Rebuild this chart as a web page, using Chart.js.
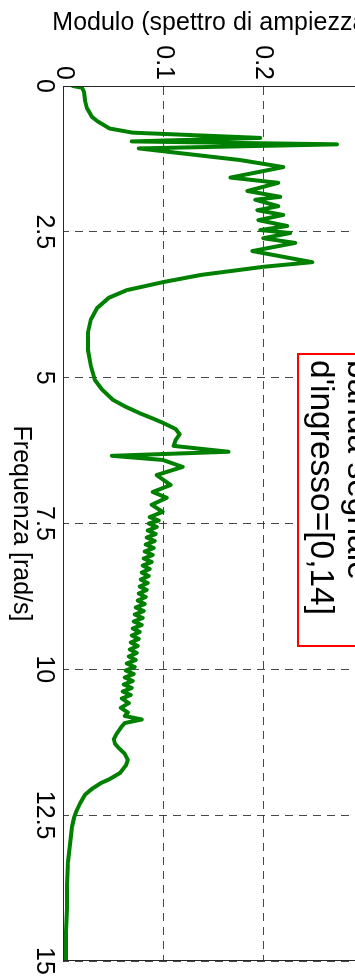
<!DOCTYPE html>
<html>
<head>
<meta charset="utf-8">
<title>Modulo (spettro di ampiezza)</title>
<script src="https://cdn.jsdelivr.net/npm/chart.js@4.4.1/dist/chart.umd.min.js"></script>
<style>
  html, body { margin: 0; padding: 0; background: #fff; }
  /* il grafico è disegnato orizzontale e poi ruotato di 90° */
  #cornice { position: relative; width: 355px; height: 980px; overflow: hidden; background: #fff; }
  #ruotato { position: absolute; left: 0; top: 0; width: 980px; height: 375px;
             transform-origin: 0 0; transform: translateX(375px) rotate(90deg); }
</style>
</head>
<body>
<div id="cornice">
  <div id="ruotato">
    <canvas id="spettro" width="980" height="375"></canvas>
  </div>
</div>
<script>
// Frequenze [rad/s]
const frequenze = [
  0.00, 0.03, 0.10, 0.24, 0.38, 0.53, 0.61, 0.73, 0.80, 0.89,
  0.95, 1.00, 1.07, 1.27, 1.39, 1.57, 1.66, 1.80, 1.90, 1.95,
  2.06, 2.13, 2.21, 2.30, 2.40, 2.47, 2.52, 2.61, 2.69, 2.83,
  3.02, 3.10, 3.24, 3.36, 3.50, 3.63, 3.81, 4.00, 4.23, 4.53,
  4.80, 5.04, 5.20, 5.38, 5.50, 5.61, 5.70, 5.78, 5.88, 5.97,
  6.07, 6.17, 6.27, 6.34, 6.41, 6.53, 6.67, 6.84, 6.96, 7.06,
  7.18, 7.30, 7.39, 7.45, 7.50, 7.56, 7.62, 7.68, 7.74, 7.80,
  7.86, 7.92, 7.98, 8.04, 8.10, 8.16, 8.22, 8.28, 8.34, 8.40,
  8.46, 8.52, 8.58, 8.64, 8.70, 8.76, 8.82, 8.88, 8.94, 9.00,
  9.06, 9.12, 9.18, 9.24, 9.30, 9.36, 9.42, 9.48, 9.54, 9.60,
  9.66, 9.72, 9.78, 9.84, 9.90, 9.96, 10.02, 10.08, 10.14, 10.20,
  10.26, 10.32, 10.38, 10.44, 10.50, 10.58, 10.66, 10.74, 10.80, 10.86,
  10.92, 11.00, 11.10, 11.20, 11.27, 11.35, 11.45, 11.55, 11.65, 11.78,
  11.88, 11.95, 12.05, 12.15, 12.30, 12.41, 12.55, 12.70, 13.00, 13.30,
  13.70, 14.10, 14.50, 15.00
];

// Modulo dello spettro di ampiezza
const moduli = [
  0.009, 0.018, 0.020, 0.021, 0.023, 0.028, 0.034, 0.046, 0.069, 0.197,
  0.068, 0.274, 0.075, 0.177, 0.220, 0.167, 0.215, 0.184, 0.217, 0.192,
  0.215, 0.194, 0.220, 0.195, 0.224, 0.197, 0.227, 0.200, 0.232, 0.189,
  0.249, 0.200, 0.137, 0.100, 0.063, 0.045, 0.033, 0.027, 0.024, 0.024,
  0.027, 0.031, 0.038, 0.049, 0.062, 0.076, 0.089, 0.100, 0.112, 0.116,
  0.112, 0.110, 0.165, 0.048, 0.099, 0.119, 0.093, 0.107, 0.089, 0.103,
  0.088, 0.099, 0.086, 0.095, 0.085, 0.093, 0.084, 0.092, 0.083, 0.091,
  0.082, 0.090, 0.081, 0.089, 0.080, 0.088, 0.079, 0.086, 0.078, 0.085,
  0.077, 0.084, 0.076, 0.083, 0.075, 0.082, 0.074, 0.081, 0.072, 0.080,
  0.071, 0.079, 0.070, 0.078, 0.069, 0.076, 0.068, 0.075, 0.067, 0.074,
  0.066, 0.073, 0.065, 0.072, 0.063, 0.071, 0.062, 0.070, 0.061, 0.069,
  0.060, 0.068, 0.059, 0.067, 0.058, 0.065, 0.057, 0.064, 0.061, 0.078,
  0.061, 0.057, 0.053, 0.050, 0.051, 0.055, 0.061, 0.064, 0.062, 0.056,
  0.046, 0.037, 0.028, 0.021, 0.016, 0.013, 0.010, 0.008, 0.006, 0.004,
  0.003, 0.003, 0.002, 0.002
];

const tickFrequenze = [0, 2.5, 5, 7.5, 10, 12.5, 15];
const tickModuli = [0, 0.1, 0.2];
const etichetteModuli = ['0', '0.1', '0.2'];

const titoloX = 'Frequenza [rad/s]';
const titoloY = 'Modulo (spettro di ampiezza)';
const testoCasella = ['banda segnale', "d'ingresso=[0,14]"];

const FONT = '"Liberation Sans", Arial, Helvetica, sans-serif';
const griglia = 'rgba(40,40,40,0.85)';

// Bordo completo degli assi e casella di testo rossa
const riquadro = {
  id: 'riquadro',
  afterDraw(chart) {
    const { ctx, chartArea: a, scales: { x, y } } = chart;
    ctx.save();
    ctx.strokeStyle = '#262626';
    ctx.lineWidth = 1;
    ctx.strokeRect(a.left + 0.5, a.top + 0.5, a.right - a.left - 1, a.bottom - a.top);

    const x0 = Math.round(x.getPixelForValue(4.6));
    const x1 = Math.round(x.getPixelForValue(9.6));
    const yb = Math.round(y.getPixelForValue(0.235));
    ctx.fillStyle = '#fff';
    ctx.fillRect(x0, -10, x1 - x0, yb + 10);
    ctx.strokeStyle = '#ff0000';
    ctx.lineWidth = 2;
    ctx.strokeRect(x0, -10, x1 - x0, yb + 10);

    ctx.fillStyle = '#000';
    ctx.font = '33.5px ' + FONT;
    ctx.textAlign = 'left';
    ctx.textBaseline = 'alphabetic';
    ctx.fillText(testoCasella[0], x0 + 6, y.getPixelForValue(0.285));
    ctx.fillText(testoCasella[1], x0 + 6, y.getPixelForValue(0.248));
    ctx.restore();
  }
};

const ctx = document.getElementById('spettro').getContext('2d');
new Chart(ctx, {
  type: 'line',
  data: {
    datasets: [{
      data: frequenze.map((f, i) => ({ x: f, y: moduli[i] })),
      borderColor: 'rgb(0,128,0)',
      borderWidth: 4,
      borderJoinStyle: 'round',
      borderCapStyle: 'round',
      pointRadius: 0,
      tension: 0,
      fill: false
    }]
  },
  options: {
    responsive: false,
    animation: false,
    devicePixelRatio: 1,
    layout: { padding: { left: 0, right: 19, top: 12, bottom: 0 } },
    plugins: { legend: { display: false }, tooltip: { enabled: false } },
    scales: {
      x: {
        type: 'linear',
        min: 0,
        max: 15,
        afterBuildTicks: s => { s.ticks = tickFrequenze.map(v => ({ value: v })); },
        afterFit: s => { s.height = 64; },
        grid: { color: griglia, lineWidth: 1, drawTicks: false },
        border: { display: true, color: '#262626', dash: [8, 6] },
        ticks: {
          color: '#000', padding: 5, autoSkip: false, maxRotation: 0,
          font: { family: FONT, size: 25 },
          callback: v => String(v)
        },
        title: {
          display: true, text: titoloX, color: '#000',
          font: { family: FONT, size: 25 },
          padding: { top: 0, bottom: 6 }
        }
      },
      y: {
        type: 'linear',
        min: 0,
        max: 0.3,
        afterBuildTicks: s => { s.ticks = tickModuli.map(v => ({ value: v })); },
        // niente margine extra sopra: 0.3 resta fuori dalla finestra
        afterFit: s => { s.width = 86; s.paddingTop = 0; s.paddingBottom = 0; },
        grid: { color: griglia, lineWidth: 1, drawTicks: false },
        border: { display: true, color: '#262626', dash: [8, 6] },
        ticks: {
          color: '#000', padding: 6,
          font: { family: FONT, size: 25 },
          callback: (v, i) => etichetteModuli[i]
        },
        title: {
          display: true, text: titoloY, color: '#000',
          font: { family: FONT, size: 25 },
          padding: { top: 8, bottom: 0 }
        }
      }
    }
  },
  plugins: [riquadro]
});
</script>
</body>
</html>
